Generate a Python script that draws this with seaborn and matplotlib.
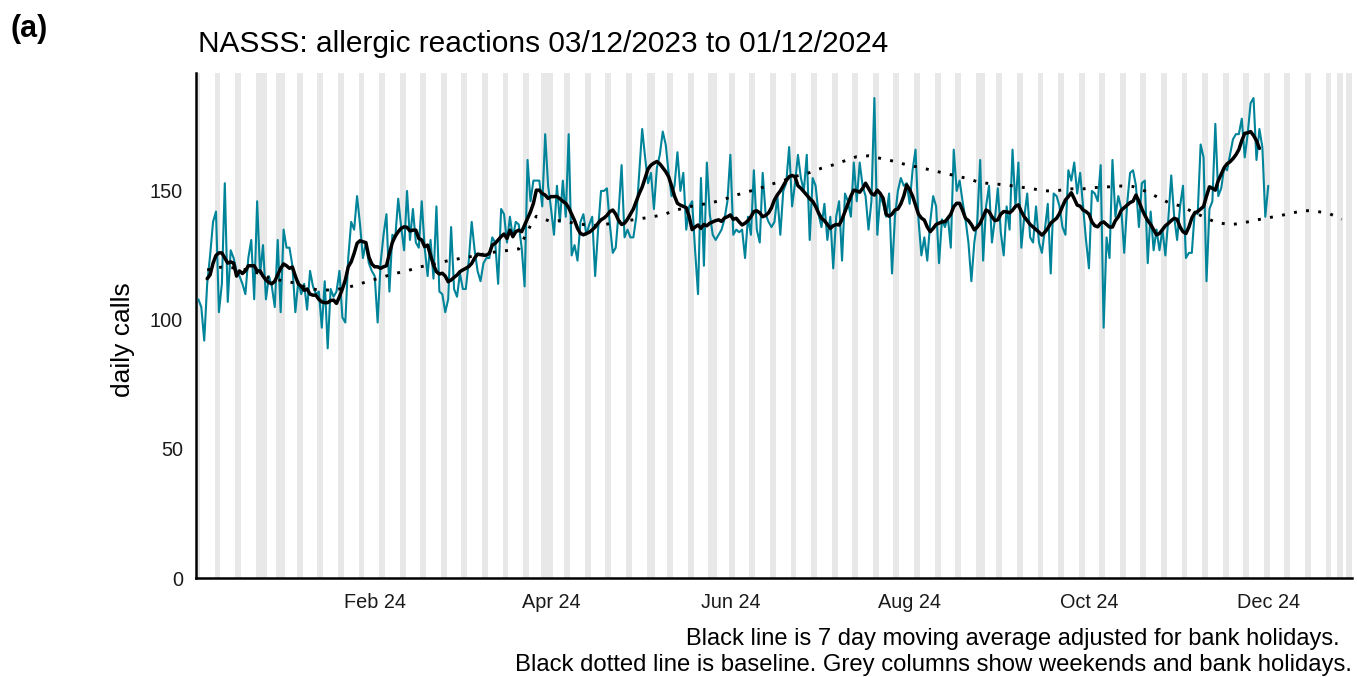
import numpy as np
import pandas as pd
import matplotlib
matplotlib.use("Agg")
import matplotlib.pyplot as plt
import matplotlib.dates as mdates
import seaborn as sns

# ---------------- data ----------------
start_date = "2023-12-03"

daily_calls = [
    108, 105, 92, 114, 125, 138, 142, 103, 114, 153,
    107, 127, 124, 119, 117, 114, 110, 124, 131, 108,
    146, 118, 129, 108, 117, 113, 105, 131, 103, 135,
    128, 128, 121, 103, 115, 110, 114, 104, 119, 113,
    110, 111, 97, 115, 89, 112, 109, 111, 119, 101,
    99, 124, 138, 135, 148, 137, 124, 130, 122, 119,
    117, 99,
    122, 133, 141, 111, 133, 132, 147, 136, 127, 150,
    131, 143, 130, 128, 146, 128, 117, 131, 116, 144,
    111, 110, 103, 108, 136, 112, 109, 118, 112, 112,
    123, 138, 127, 119, 115, 122, 124, 124, 132, 130,
    114, 143, 141, 130, 140, 132, 138, 137, 128, 113,
    162, 146, 154, 154, 154, 144, 172, 152, 143, 133,
    152, 138, 154, 140, 172, 125, 129, 123, 138, 141,
    133, 137, 140, 117, 135, 150, 150, 151, 137, 126,
    128, 142, 160, 132, 135, 132, 132, 140, 157, 174,
    163, 153, 157, 143, 159, 164, 173, 168, 157, 148,
    152, 165, 150, 157, 135, 144, 146, 127, 110, 155,
    121, 161, 141, 133, 131, 133, 135, 139, 146, 164,
    133, 135,
    134, 135, 124, 140, 133, 158, 135, 130, 157, 141,
    138, 136, 138, 148, 133, 150, 153, 167, 144, 153,
    164, 155, 150, 164, 131, 155, 152, 141, 136, 145,
    131, 140, 120, 140, 146, 123, 149, 146, 140, 161,
    146, 161, 152, 148, 135, 146, 186, 133, 148, 145,
    140, 149, 118, 140, 150, 155, 152, 153, 145, 158,
    166, 139, 125, 132, 123, 138, 148, 144, 122, 139,
    136, 140, 128, 166, 150, 154, 146, 139, 130, 115,
    130, 138, 162, 123, 144, 152, 130, 139, 151, 134,
    125, 144, 135, 166, 144, 161, 128, 140, 149, 132,
    130, 144, 130, 126, 135, 145, 118, 149, 148, 144,
    136, 133, 158, 154, 161, 149, 157, 144, 131, 120,
    150,
    149, 146, 160, 97, 132, 124, 162, 140, 148, 143,
    126, 145, 157, 158, 152, 136, 153, 154, 122, 142,
    127, 135, 127, 135, 125, 139, 156, 140, 131, 144,
    152, 124, 126, 126, 142, 141, 168, 163, 115, 143,
    146, 176, 148, 151, 159, 158, 164, 170, 172, 172,
    178, 163, 172, 184, 186, 162, 174, 167, 140, 152,
]

ma_start_date = "2023-12-06"
moving_avg = [
    116, 117.5, 122, 125, 126, 126, 124, 122, 122.5, 122,
    117, 119, 118, 119, 121, 121, 121, 119, 119, 117,
    115.5, 114.5, 114, 115, 117.5, 120, 121.7, 121, 120, 120.5,
    117, 114, 113, 111.5, 112, 110, 109.6, 109.6, 108, 107,
    106.7, 106.7, 107.5, 107.7, 106.4, 109, 112, 115.5, 120.6, 122.5,
    125.8, 129.7, 130.7, 130.3, 130, 124.5, 121.7, 120.6, 120.6,
    120, 120.6, 121, 125.8, 130, 132.5, 134.2, 135.5, 136.1, 135.9,
    134.5, 134.8, 134.8, 131.6, 131, 128.4, 129, 125, 121.3, 118.7,
    117.8, 118.1, 117, 114.8, 115.5, 116.5, 117.4, 118.7, 119.4, 120,
    120.7, 121.9, 124, 125.5, 125.3, 125.1, 125.1, 125.8, 129, 129.7,
    131, 132.3, 133.3, 131.6, 134.8, 132.3, 134.2, 134.8, 134.2, 136.8,
    139.4, 141.9, 145.2, 150.3, 150.3, 149, 148.4, 147.1, 147.8, 147.8,
    147.8, 147, 146, 145.2, 143.5, 141, 138.5, 135.5, 133.5, 133,
    133.5, 134, 134.9, 136, 137.5, 138.8, 139.5, 140.5, 142, 142.6,
    141, 138.5, 137, 137.5, 139, 141, 143, 146, 149, 151.5,
    155, 158.5, 160, 160.8, 161.4, 160.5, 159, 157.5, 155.5, 152,
    148, 145.2, 144.5, 144, 143.5, 140, 135, 136, 136.8, 135.5,
    137, 136.5, 137.5, 138, 138.5, 138.8, 138.2, 139.5, 140, 140.7,
    139, 139.4,
    138, 136.8, 137.5, 138.5, 140, 142, 142.3, 141.5, 140, 140.5,
    141.5, 143.5, 146.5, 148.5, 150, 152, 154, 155.5, 156, 155.5,
    152, 151, 149.7, 148.4, 147, 146, 144, 141.5, 139.4, 138.5,
    137, 135.5, 136.5, 137, 136.8, 139, 142, 145, 148, 150.3,
    150, 149.5, 151, 153, 151, 149, 148.4, 150.3, 149, 147.1,
    141, 140.2, 141, 142.6, 143, 145, 148, 152.3, 150.5, 148,
    144.5, 141,
    139.5, 138.7, 136, 134.2, 135.5, 137, 137.5, 138, 138.1, 139.4,
    141, 143.9, 145.2, 145.2, 142.5, 139.4, 138.5, 137, 134.9, 136,
    137.5, 140, 142.6, 142, 140, 138.5, 138.8, 141, 142, 141.9,
    141.5, 142.5, 144, 144.6, 142, 140, 138.5, 137, 136, 135,
    134, 132.9, 134, 135.5, 137.5, 138.5, 139.4, 141.3, 144, 146.5,
    147.8, 149.3, 147, 144.5, 144.1, 142.6, 142, 141, 138, 136.5,
    136.1,
    137.5, 138, 137, 136, 136, 138.5, 140, 142.5, 143.5, 144.5,
    145.5, 146, 148.4, 146, 143, 140.6, 138.5, 137, 135, 133,
    133.5, 135, 136.5, 137.4, 138.5, 139.4, 139, 136, 134.2, 133.5,
    136, 139.5, 141.5, 142, 143, 144, 148, 151.6, 151, 150.3,
    154, 156.5, 159, 160.5, 161.3, 162.5, 164, 166, 169.5, 172.3,
    172.5, 173, 171.5, 169.5, 166.5,
]

# baseline: days after start_date and value
baseline_day = [
    3, 8, 14, 21, 24, 29, 33, 37, 41, 46, 50, 54, 58, 62, 66, 71, 75, 79, 83, 88,
    92, 96, 100, 105, 109, 113, 115, 120, 123, 128, 132, 136, 141, 145, 149, 153,
    158, 162, 166, 170, 174, 179, 183, 187, 191, 195, 199, 203, 208, 212, 216, 220,
    224, 228, 233, 237, 241, 245, 250, 254, 258, 262, 266, 271, 275, 279, 284, 288,
    292, 297, 301, 305, 310, 314, 318, 322, 326, 330, 335, 338, 342, 346, 351, 355,
    359, 363, 368, 372, 376, 380, 385, 389,
]
baseline_calls = [
    119.4, 120.5, 120, 118, 116.3, 115.1, 114.3, 112.4, 111.6, 111.6, 112.4, 113.6,
    115.1, 116.3, 117.8, 119, 120.5, 121.3, 122.5, 123.6,
    124.4, 125.3, 126.2, 126.9, 127.5, 136.6, 140.2, 138.1, 138.5, 137.5, 136.8,
    136.6, 137.5, 138.3, 139, 139.7,
    140.7, 142.4, 143.6, 144.6, 145.2, 146.8, 148.4, 149.7, 151, 152.6, 154, 155.6,
    157.1, 158.8, 160.1, 161.7,
    163.3, 163.6, 162.4, 161.4, 160.1, 159.2, 157.9, 156.8, 155.8, 154.7, 153.2,
    152.7, 152.3, 151.6, 150.8, 150,
    150.1, 150.8, 150.8, 151.3, 151.6, 151.9, 151.7, 150, 147.8, 145.5, 143.9, 142,
    140, 137.9, 136.9, 137.5,
    138.5, 139.4, 140.4, 141.4, 142.4, 142.2, 141.1, 139,
]

bank_holidays = [
    "2023-12-25", "2023-12-26", "2024-01-01", "2024-03-29", "2024-04-01",
    "2024-05-06", "2024-05-27", "2024-08-26", "2024-12-25", "2024-12-26",
]

axis_start = "2023-12-02"
axis_end = "2024-12-29"
y_ticks = [0, 50, 100, 150]
y_max = 195.7

title = "NASSS: allergic reactions 03/12/2023 to 01/12/2024"
panel_tag = "(a)"
y_label = "daily calls"
caption_1 = "Black line is 7 day moving average adjusted for bank holidays."
caption_2 = "Black dotted line is baseline. Grey columns show weekends and bank holidays."

# ---------------- frames ----------------
df_daily = pd.DataFrame({
    "date": pd.date_range(start_date, periods=len(daily_calls), freq="D"),
    "calls": daily_calls,
})
df_ma = pd.DataFrame({
    "date": pd.date_range(ma_start_date, periods=len(moving_avg), freq="D"),
    "calls": moving_avg,
})
df_base = pd.DataFrame({
    "date": pd.Timestamp(start_date) + pd.to_timedelta(baseline_day, unit="D"),
    "calls": baseline_calls,
})

# ---------------- plot ----------------
sns.set_theme(style="white")
plt.rcParams["font.family"] = ["Liberation Sans", "DejaVu Sans"]

W, H = 1357, 677
fig = plt.figure(figsize=(W / 100, H / 100), dpi=100)
ax_l, ax_r, ax_t, ax_b = 196, 1352, 73, 578
ax = fig.add_axes([ax_l / W, 1 - ax_b / H, (ax_r - ax_l) / W, (ax_b - ax_t) / H])

teal = "#00849A"
sns.lineplot(data=df_daily, x="date", y="calls", color=teal, lw=1.5, ax=ax, zorder=3)
sns.lineplot(data=df_ma, x="date", y="calls", color="black", lw=2.5, ax=ax, zorder=4)
sns.lineplot(data=df_base, x="date", y="calls", color="black", lw=2.1,
             linestyle=(0, (1, 3.2)), dash_capstyle="butt", ax=ax, zorder=4)

# grey columns: weekends and bank holidays
all_days = pd.date_range(axis_start, axis_end, freq="D")
hol = set(pd.to_datetime(bank_holidays))
for d in all_days:
    if d.weekday() >= 5 or d in hol:
        x = mdates.date2num(d)
        ax.axvspan(x - 0.5, x + 0.5, color="#E8E8E8", lw=0, zorder=1)

ax.set_xlim(mdates.date2num(pd.Timestamp(axis_start)) + 0.2,
            mdates.date2num(pd.Timestamp(axis_end)) + 0.5)
ax.set_ylim(0, y_max)
ax.set_yticks(y_ticks)
ax.xaxis.set_major_locator(mdates.MonthLocator(bymonth=[2, 4, 6, 8, 10, 12]))
ax.xaxis.set_major_formatter(mdates.DateFormatter("%b %y"))
ax.set_xlabel("")
ax.set_ylabel("")

for s in ["top", "right"]:
    ax.spines[s].set_visible(False)
for s in ["left", "bottom"]:
    ax.spines[s].set_color("black")
    ax.spines[s].set_linewidth(1.8)
ax.tick_params(axis="both", which="major", length=5, width=1.4, color="#333333",
               labelsize=14.3, labelcolor="#1a1a1a", direction="out")
ax.tick_params(axis="x", pad=5.5)
ax.tick_params(axis="y", pad=4.5)
ax.grid(False)

fig.text(10 / W, 1 - 37 / H, panel_tag, fontsize=22, fontweight="bold",
         ha="left", va="baseline", color="black")
fig.text(198 / W, 1 - 52 / H, title, fontsize=21.5, ha="left", va="baseline",
         color="black")
fig.text(123 / W, 1 - 340 / H, y_label, fontsize=19, rotation=90,
         ha="center", va="center", color="black")
fig.text(1340 / W, 1 - 645 / H, caption_1, fontsize=17, ha="right",
         va="baseline", color="black")
fig.text(1352 / W, 1 - 671 / H, caption_2, fontsize=17.2, ha="right",
         va="baseline", color="black")

fig.savefig("out.png", dpi=100)
